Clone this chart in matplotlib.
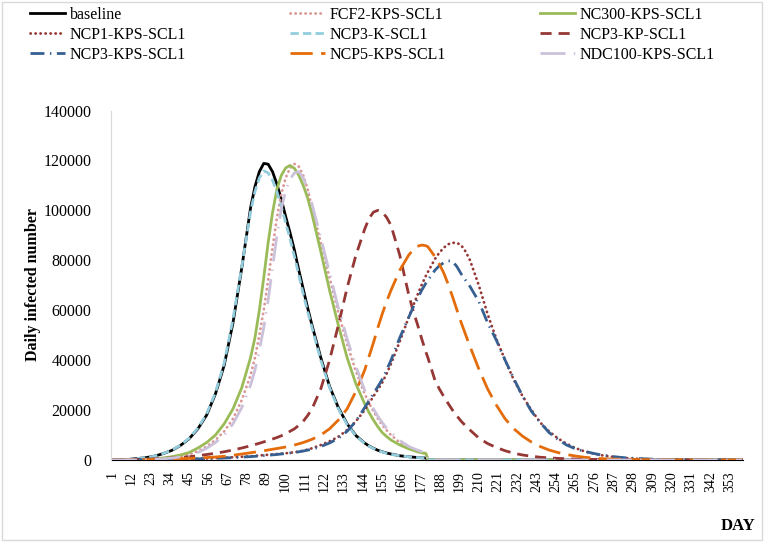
import matplotlib
matplotlib.use("Agg")
import matplotlib.pyplot as plt
from matplotlib.patches import Rectangle

# days sampled from the chart (x axis is the day number 1..360),
# a bit denser around the peaks
DAYS = [1, 10, 20, 25, 30, 35, 40, 45, 50, 55, 60, 65, 70, 75,
        80, 82.5, 85, 87.5, 90, 92.5, 95, 97.5, 100, 102.5, 105, 107.5, 110, 112.5, 115,
        120, 125, 130, 135, 140, 145, 147.5, 150, 152.5, 155, 157.5, 160, 165, 170, 172.5, 175, 177.5, 180, 181,
        185, 187.5, 190, 192.5, 195, 197.5, 200, 202.5, 205, 210, 215, 220, 225, 230, 235, 240, 245, 250, 255,
        260, 265, 270, 275, 280, 285, 290, 295, 300, 310, 320, 330, 340, 350, 360]

baseline = [0, 200, 900, 1500, 2500, 3800, 5800, 8500, 12500, 18000, 26500, 38000, 55000, 77000,
            101000, 109500, 115500, 118800, 118500, 115500, 110500, 104500, 97500, 91000, 84000, 76000, 68500, 61000, 54000,
            41000, 29500, 21000, 14500, 9800, 6800, 5600, 4700, 3900, 3300, 2800, 2400, 1700, 1300, 1150, 1000, 900, 800, 0,
            0, 0, 0, 0, 0, 0, 0, 0, 0, 0, 0, 0, 0, 0, 0, 0, 0, 0, 0,
            0, 0, 0, 0, 0, 0, 0, 0, 0, 0, 0, 0, 0, 0, 0]
fcf2_kps = [0, 30, 200, 350, 550, 900, 1400, 2200, 3500, 5400, 8000, 11500, 16500, 24000,
            34000, 41000, 50000, 60000, 72000, 85000, 97000, 106500, 113000, 117000, 118600, 117500, 114000, 108500, 101000,
            87000, 73000, 59000, 46500, 35500, 26500, 22800, 19500, 16600, 14000, 11900, 10000, 7000, 5000, 4300, 3600, 3100, 2700, 0,
            0, 0, 0, 0, 0, 0, 0, 0, 0, 0, 0, 0, 0, 0, 0, 0, 0, 0, 0,
            0, 0, 0, 0, 0, 0, 0, 0, 0, 0, 0, 0, 0, 0, 0]
nc300_kps = [0, 50, 300, 500, 800, 1300, 2000, 3000, 4800, 7000, 10000, 14500, 20500, 29000,
             41000, 49000, 60000, 73000, 87000, 99000, 108500, 114000, 117000, 118000, 116800, 114000, 110000, 105000, 98500,
             83500, 68000, 54000, 41000, 30500, 22500, 19000, 16000, 13300, 11000, 9400, 8000, 6000, 4500, 3900, 3300, 2900, 2500, 0,
             0, 0, 0, 0, 0, 0, 0, 0, 0, 0, 0, 0, 0, 0, 0, 0, 0, 0, 0,
             0, 0, 0, 0, 0, 0, 0, 0, 0, 0, 0, 0, 0, 0, 0]
ncp1_kps = [0, 30, 100, 150, 200, 270, 350, 420, 500, 600, 750, 900, 1100, 1300,
            1500, 1650, 1800, 1950, 2100, 2250, 2400, 2550, 2700, 2900, 3100, 3400, 3700, 4200, 4700,
            6000, 7500, 9300, 12000, 15500, 20000, 22700, 25500, 28200, 31000, 34600, 38500, 47500, 57000, 61600, 66000, 70200, 74000, 75300,
            80500, 83000, 85000, 86400, 87000, 87000, 86000, 83500, 80000, 70000, 58500, 48500, 40000, 32000, 25500, 20000, 15000, 11500, 8700,
            6500, 4800, 3500, 2600, 1900, 1400, 1000, 700, 500, 250, 150, 80, 40, 20, 10]
ncp3_k = [0, 200, 900, 1500, 2500, 3900, 5900, 8700, 12800, 18500, 27000, 39000, 56500, 77500,
          99500, 107500, 113000, 115800, 115000, 112000, 107500, 101500, 95000, 88500, 81500, 74000, 66500, 59500, 53000,
          40000, 29000, 20500, 14200, 9600, 6700, 5500, 4600, 3850, 3200, 2700, 2300, 1700, 1300, 1150, 1000, 900, 800, 0,
          0, 0, 0, 0, 0, 0, 0, 0, 0, 0, 0, 0, 0, 0, 0, 0, 0, 0, 0,
          0, 0, 0, 0, 0, 0, 0, 0, 0, 0, 0, 0, 0, 0, 0]
ncp3_kp = [0, 100, 300, 450, 600, 800, 1000, 1300, 1700, 2200, 2700, 3300, 4000, 4800,
           5700, 6200, 6700, 7250, 7800, 8400, 9000, 9700, 10500, 11500, 12500, 13900, 15500, 17800, 20500,
           28500, 40000, 54000, 69000, 82000, 92500, 96800, 99300, 100000, 99300, 97200, 94000, 82000, 66500, 60000, 54500, 48500, 43000, 41000,
           32000, 28500, 25500, 22700, 20000, 17700, 15500, 13700, 12000, 8800, 6600, 5000, 3700, 2700, 2000, 1500, 1100, 850, 650,
           500, 400, 300, 250, 200, 150, 100, 80, 60, 40, 30, 20, 10, 10, 0]
ncp3_kps = [0, 30, 100, 150, 200, 250, 300, 370, 450, 550, 650, 800, 950, 1150,
            1350, 1470, 1600, 1750, 1900, 2050, 2200, 2400, 2600, 2800, 3000, 3300, 3600, 3950, 4300,
            5400, 6800, 8700, 11500, 15500, 21000, 23700, 26500, 29400, 32300, 36000, 40000, 49000, 57000, 61000, 64500, 68000, 71000, 72000,
            76000, 77800, 79000, 79800, 79600, 77500, 74500, 72000, 69500, 63500, 55000, 48000, 40000, 32500, 25500, 19500, 15000, 11000, 8300,
            6000, 4500, 3500, 2700, 2000, 1500, 1100, 800, 600, 300, 150, 80, 40, 20, 10]
ncp5_kps = [0, 50, 150, 200, 300, 400, 500, 650, 800, 1000, 1200, 1500, 1900, 2400,
            2900, 3150, 3400, 3700, 4000, 4300, 4600, 4900, 5200, 5600, 6000, 6500, 7000, 7650, 8300,
            10000, 12500, 16000, 20500, 27500, 36000, 41500, 47000, 53000, 58500, 63500, 68000, 76000, 82000, 84200, 85600, 86100, 85800, 85400,
            81500, 78500, 75000, 70500, 65500, 60200, 55000, 50200, 45500, 36500, 28500, 22000, 16500, 12500, 9500, 7200, 5400, 4000, 3000,
            2200, 1600, 1100, 800, 550, 400, 300, 220, 160, 100, 60, 40, 20, 10, 10]
ndc100_kps = [0, 20, 150, 300, 450, 750, 1200, 1900, 3000, 4700, 7000, 10000, 14500, 21000,
              30000, 36000, 44000, 53000, 64000, 77000, 90000, 100500, 108000, 112500, 115000, 115500, 113000, 108500, 102500,
              89000, 75000, 61000, 48500, 37500, 28000, 24000, 20500, 17500, 15000, 12700, 11000, 7800, 5500, 4700, 4000, 3400, 2900, 0,
              0, 0, 0, 0, 0, 0, 0, 0, 0, 0, 0, 0, 0, 0, 0, 0, 0, 0, 0,
              0, 0, 0, 0, 0, 0, 0, 0, 0, 0, 0, 0, 0, 0, 0]

NAMES = ['baseline', 'FCF2-KPS-SCL1', 'NC300-KPS-SCL1', 'NCP1-KPS-SCL1', 'NCP3-K-SCL1',
         'NCP3-KP-SCL1', 'NCP3-KPS-SCL1', 'NCP5-KPS-SCL1', 'NDC100-KPS-SCL1']
SERIES = [baseline, fcf2_kps, nc300_kps, ncp1_kps, ncp3_k, ncp3_kp, ncp3_kps, ncp5_kps, ndc100_kps]

XTICKS = [1, 12, 23, 34, 45, 56, 67, 78, 89, 100, 111, 122, 133, 144, 155, 166, 177, 188,
          199, 210, 221, 232, 243, 254, 265, 276, 287, 298, 309, 320, 331, 342, 353]
YTICKS = [0, 20000, 40000, 60000, 80000, 100000, 120000, 140000]

# colour, line style
STYLES = [
    ('#000000', '-'),
    ('#D99694', (0, (0.1, 1.7))),
    ('#9BBB59', '-'),
    ('#953735', (0, (0.1, 1.7))),
    ('#93CDDD', (0, (3, 1.5))),
    ('#953735', (0, (4, 2.5))),
    ('#376092', (0, (5, 2, 0.5, 2))),
    ('#E46C0A', (0, (8, 3))),
    ('#CCC1DA', (0, (9, 3, 0.5, 3))),
]

plt.rcParams['font.family'] = ['Liberation Serif', 'DejaVu Serif']

fig = plt.figure(figsize=(7.64, 5.42), dpi=100)
ax = fig.add_axes([111 / 764, 82 / 542, 632 / 764, 349.5 / 542])

handles = []
for name, vals, (col, ls) in zip(NAMES, SERIES, STYLES):
    dotted = ls != '-' and ls[1][0] < 1
    h, = ax.plot(DAYS, vals, color=col, linestyle=ls, lw=2.0, label=name,
                 dash_capstyle='round' if dotted else 'butt')
    handles.append(h)

ax.set_xlim(0.5, 360.5)
ax.set_ylim(0, 140000)
ax.set_xticks(XTICKS)
ax.set_xticklabels([str(t) for t in XTICKS], rotation=90)
ax.set_yticks(YTICKS)
ax.set_yticklabels([str(t) for t in YTICKS])
ax.tick_params(axis='x', length=0, pad=8, labelsize=10)
ax.tick_params(axis='y', length=0, pad=14, labelsize=11.5)

for s in ['top', 'right']:
    ax.spines[s].set_visible(False)
ax.spines['left'].set_color('#D9D9D9')
ax.spines['bottom'].set_color('black')
ax.spines['bottom'].set_zorder(0.5)

# legend: three columns placed like the original, filled row by row
col_x = [30, 290, 540]
for c in range(3):
    idx = [c, c + 3, c + 6]
    fig.legend([handles[i] for i in idx], [NAMES[i] for i in idx],
               loc='upper left', bbox_to_anchor=(col_x[c] / 764, 1 - 7 / 542),
               frameon=False, fontsize=11.5, handlelength=2.2, handletextpad=0.3,
               labelspacing=0.25, borderpad=0, borderaxespad=0)

fig.text(33 / 764, 1 - 284.5 / 542, 'Daily infected number', rotation=90,
         ha='center', va='center', fontsize=11.5, fontweight='bold')
fig.text(738 / 764, 1 - 526 / 542, 'DAY', ha='center', va='center',
         fontsize=12, fontweight='bold')

fig.patches.append(Rectangle((0.003, 0.004), 0.994, 0.992, transform=fig.transFigure,
                             fill=False, edgecolor='#D9D9D9', lw=1))

fig.savefig('out.png', dpi=100)
